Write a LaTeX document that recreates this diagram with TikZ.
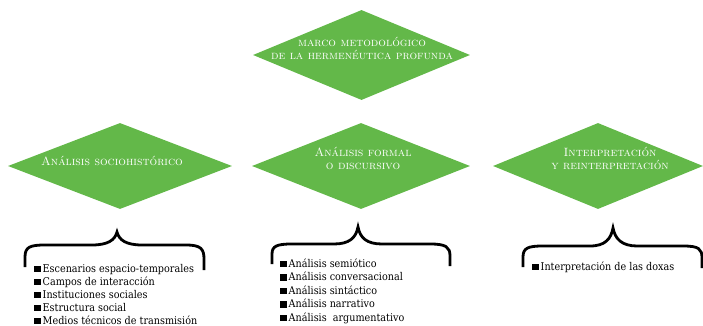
\documentclass[tikz,border=0pt]{standalone}
\usepackage{fontspec}
\newfontfamily\listfont{DejaVu Serif}[FakeStretch=0.9]
\usetikzlibrary{shapes.geometric}
\definecolor{leaf}{RGB}{99,184,73}
\tikzset{
  gem/.style={diamond, fill=leaf, draw=none, inner sep=0pt},
  gemtext/.style={text=white, font=\fontsize{12}{13}\selectfont\scshape, align=center, inner sep=0pt},
  item/.style={anchor=base west, inner sep=0pt, font=\listfont\fontsize{10.7}{13}\selectfont},
  brace/.style={line width=2.8pt, line cap=butt}
}
\newcommand{\sqb}{\rule{6.5pt}{6.5pt}\hspace{2pt}}
\begin{document}
\begin{tikzpicture}[x=1pt,y=-1pt]
\useasboundingbox (0,0) rectangle (703,326);
% diamonds
\node[gem, minimum width=217pt, minimum height=90pt] (top) at (361.5,55) {};
\node[gem, minimum width=224pt, minimum height=86pt] (d1) at (120,166) {};
\node[gem, minimum width=218pt, minimum height=86pt] (d2) at (361,166) {};
\node[gem, minimum width=210pt, minimum height=86pt] (d3) at (598,166) {};
\node[gemtext] (ttop) at (362,48.5) {marco metodológico\\de la hermenéutica profunda};
\node[gemtext] (t1) at (112,161) {Análisis sociohistórico};
\node[gemtext] (t2) at (363,158.5) {Análisis formal\\o discursivo};
\node[gemtext] (t3) at (610,158.5) {Interpretación\\y reinterpretación};
% braces
\draw[brace] (25,267) -- (25,257) .. controls (25,247) and (30,245) .. (45,245) -- (92,245)
  .. controls (108,245) and (115,240) .. (117,232)
  .. controls (119,240) and (126,245) .. (142,245) -- (186,245)
  .. controls (201,245) and (204,249) .. (204,259) -- (204,270);
\draw[brace] (272,264) -- (272,254) .. controls (272,246) and (277,244) .. (292,244) -- (334,244)
  .. controls (349,244) and (356,238) .. (358,227)
  .. controls (360,238) and (367,244) .. (382,244) -- (430,244)
  .. controls (446,244) and (450,247) .. (450,256) -- (450,266);
\draw[brace] (523,267) -- (523,257) .. controls (523,248) and (528,246) .. (543,246) -- (590,246)
  .. controls (605,246) and (611,239) .. (613,228)
  .. controls (615,239) and (622,246) .. (637,246) -- (683,246)
  .. controls (699,246) and (702,249) .. (702,258) -- (702,268);
% lists
\node[item] (a1) at (34,272) {\sqb Escenarios espacio-temporales};
\node[item] (a2) at (34,285) {\sqb Campos de interacción};
\node[item] (a3) at (34,298) {\sqb Instituciones sociales};
\node[item] (a4) at (34,311) {\sqb Estructura social};
\node[item] (a5) at (34,324) {\sqb Medios técnicos de transmisión};
\node[item] (b1) at (280,267) {\sqb Análisis semiótico};
\node[item] (b2) at (280,280.5) {\sqb Análisis conversacional};
\node[item] (b3) at (280,294) {\sqb Análisis sintáctico};
\node[item] (b4) at (280,307.5) {\sqb Análisis narrativo};
\node[item] (b5) at (280,321) {\sqb Análisis\ \ argumentativo};
\node[item] (c1) at (532,270) {\sqb Interpretación de las doxas};
\end{tikzpicture}
\end{document}
